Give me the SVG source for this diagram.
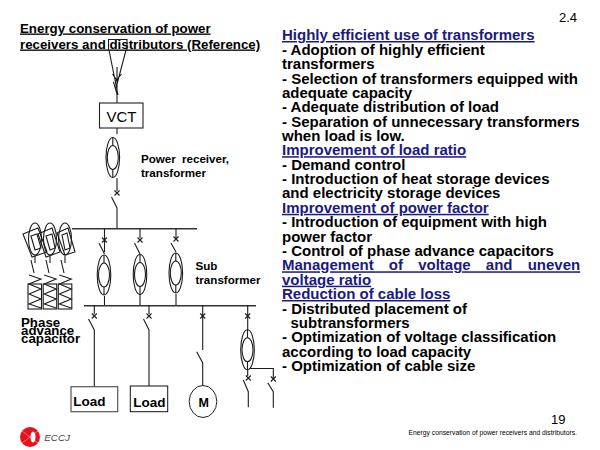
<svg xmlns="http://www.w3.org/2000/svg" width="600" height="450" viewBox="0 0 600 450">
<style>
text{font-family:"Liberation Sans",Arial,sans-serif;fill:#000}
.h{font-weight:bold;font-size:15px;fill:#1a1a80;text-decoration:underline}
.t{font-weight:bold;font-size:15px}
.ti{font-weight:bold;font-size:13.300px;text-decoration:underline}
.s{font-weight:bold;font-size:11.600px}
.p{font-weight:bold;font-size:13.300px}
.l{font-weight:bold;font-size:13.500px}
.w{fill:none;stroke:#1c1c1c;stroke-width:1.100}
.bus{fill:none;stroke:#333;stroke-width:1.600}
</style>
<defs>
<path id="brk" class="w" d="M-2.500 -2.500L2.500 2.500M2.500 -2.500L-2.500 2.500"/>
<g id="tr" class="w"><ellipse cx="0" cy="0" rx="6.800" ry="20"/><ellipse cx="0" cy="0" rx="5.500" ry="12"/><path d="M0 -20V-12M0 12V20"/></g>
<g id="cap" class="w"><rect x="0" y="9" width="13.500" height="25"/><path d="M1 0L13 4L1 9L13 14L1 19L13 24L1 29L13 33"/></g>
</defs>
<rect width="600" height="450" fill="#fff"/>
<g id="title"><text x="20" y="32.500" class="ti">Energy conservation of power</text>
<text x="20" y="48.500" class="ti">receivers and distributors (Reference)</text></g>
<text x="559" y="21.700" font-size="13">2.4</text>
<g id="connectors" class="w">
<path d="M108.500 50V39.500H127V50M109 50L118 95M126 50L116 88M117 67V103M117 94L113.500 82M112.500 74L118 82M121.500 74L115 82"/>
<path d="M117 128V134M117 178V191M111.500 197L117 208V228"/><use href="#brk" x="117" y="193"/>
<path class="bus" d="M72 228.700H197"/>
<path d="M104.500 229V252M99 243L104.500 254M104.500 296V305"/><use href="#brk" x="104.500" y="240"/>
<path d="M140 229V238M134.500 243L140 254M140 294V305"/><use href="#brk" x="140" y="240"/>
<path d="M176 229V238M171 243L176 252M176 294V305"/><use href="#brk" x="176" y="239"/>
<path class="bus" d="M84 305.700H256"/>
<path d="M94.300 305V314M88.500 319L94.300 330V389"/><use href="#brk" x="94.300" y="316"/>
<path d="M149 305V314M143.500 319L149 330V389"/><use href="#brk" x="149" y="316"/>
<path d="M202.700 305V350M196.700 351.700L202.700 363V385"/><use href="#brk" x="202.700" y="316"/>
<path d="M247.700 305V330M247.700 369.500V376M249 368.500H273.300V378"/><use href="#brk" x="247.700" y="316"/><use href="#brk" x="248.300" y="378"/><use href="#brk" x="273.300" y="379"/>
<path d="M243.300 380L248.300 391.700V407.300M267.700 382.700L273.300 391.700V407.700"/>
<path d="M35 256V263M31 260L34 273M50 256V263M46 260L49 273M65 256V263M61 260L64 273"/>
</g>
<g id="vct"><rect x="99.500" y="103" width="43.500" height="25" fill="#fff" stroke="#222" stroke-width="1.100"/><text x="106.500" y="122" font-size="15">VCT</text></g>
<g id="main-transformer"><use href="#tr" x="112.800" y="157.500"/></g>
<g id="sub-1"><use href="#tr" x="104" y="275"/></g>
<g id="sub-2"><use href="#tr" x="140" y="274.500"/></g>
<g id="sub-3"><use href="#tr" x="175.800" y="273"/></g>
<g id="sub-4"><use href="#tr" x="247.500" y="349.700"/></g>
<g id="capacitors">
<g class="w">
<ellipse cx="35" cy="239" rx="6.500" ry="16"/><ellipse cx="50" cy="239" rx="6.500" ry="16"/><ellipse cx="65" cy="239" rx="6.500" ry="16"/>
<path d="M23 234L38 228L47 252L32 257ZM38 234L52 228L60 252L46 257ZM57 233L68 228L75 252L65 255Z"/>
<path d="M31 236L37 234L41 248L35 250ZM46 236L52 234L55 248L50 250ZM62 235L67 233L70 248L65 250Z"/>
</g>
<use href="#cap" x="28" y="275"/><use href="#cap" x="43.200" y="275"/><use href="#cap" x="58.300" y="275"/>
</g>
<g id="load-1"><rect x="71" y="386.700" width="46.700" height="25" fill="#fff" stroke="#555" stroke-width="1.200"/><text x="73.300" y="406" class="l">Load</text></g>
<g id="load-2"><rect x="130.300" y="386" width="37.400" height="25.700" fill="#fff" stroke="#111"/><text x="133.300" y="407" class="l">Load</text></g>
<g id="motor"><ellipse cx="203" cy="401.500" rx="13.800" ry="16" fill="#fff" stroke="#222"/><text x="198.500" y="406.700" class="l" style="font-size:12.500px">M</text></g>
<text x="141" y="162.700" class="s" word-spacing="3">Power receiver,</text>
<text x="141" y="176.700" class="s">transformer</text>
<text x="195.500" y="270" class="s">Sub</text>
<text x="195.500" y="284" class="s">transformer</text>
<text x="21" y="326.700" class="p">Phase</text><text x="21" y="335" class="p">advance</text><text x="21" y="343" class="p">capacitor</text>
<g id="body">
<text x="282" y="40" class="h">Highly efficient use of transformers</text>
<text x="282" y="54.800" class="t">- Adoption of highly efficient</text>
<text x="282" y="69" class="t">transformers</text>
<text x="282" y="83.500" class="t">- Selection of transformers equipped with</text>
<text x="282" y="97.800" class="t">adequate capacity</text>
<text x="282" y="112.300" class="t">- Adequate distribution of load</text>
<text x="282" y="126.700" class="t">- Separation of unnecessary transformers</text>
<text x="282" y="140.800" class="t">when load is low.</text>
<text x="282" y="155.200" class="h">Improvement of load ratio</text>
<text x="282" y="169.700" class="t">- Demand control</text>
<text x="282" y="184" class="t">- Introduction of heat storage devices</text>
<text x="282" y="198.400" class="t">and electricity storage devices</text>
<text x="282" y="212.800" class="h">Improvement of power factor</text>
<text x="282" y="227.300" class="t">- Introduction of equipment with high</text>
<text x="282" y="241.700" class="t">power factor</text>
<text x="282" y="256" class="t">- Control of phase advance capacitors</text>
<text x="282" y="270.300" class="h" word-spacing="11">Management of voltage and uneven</text>
<text x="282" y="284.700" class="h">voltage ratio</text>
<text x="282" y="299" class="h">Reduction of cable loss</text>
<text x="282" y="313.500" class="t">- Distributed placement of</text>
<text x="290.500" y="327.800" class="t">subtransformers</text>
<text x="282" y="342.200" class="t">- Optimization of voltage classification</text>
<text x="282" y="356.600" class="t">according to load capacity</text>
<text x="282" y="371" class="t">- Optimization of cable size</text>
</g>
<text x="551" y="424" font-size="13">19</text>
<text x="408.500" y="435" font-size="6.750">Energy conservation of power receivers and distributors.</text>
<g id="logo"><circle cx="30" cy="437" r="10" fill="#e8101a"/><path d="M22 431L38 443M22 443L38 431" stroke="#ff8a80" stroke-width="0.800"/><ellipse cx="33" cy="437" rx="2.500" ry="5.500" fill="#fff"/><text x="44.300" y="440.500" font-size="9.800" font-style="italic" style="fill:#444">ECCJ</text></g>
</svg>
